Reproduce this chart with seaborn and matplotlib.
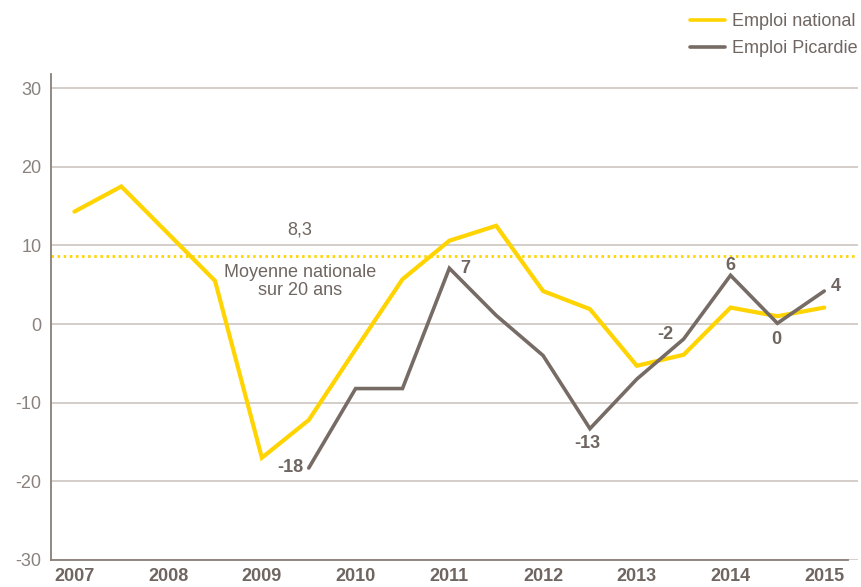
import matplotlib
matplotlib.use("Agg")
import matplotlib.pyplot as plt
import numpy as np
import pandas as pd
import seaborn as sns

# half-year points, 2007 S1 .. 2015 S1
periods = list(range(17))
year_labels = ['2007', '2008', '2009', '2010', '2011', '2012', '2013', '2014', '2015']
national = [14.3, 17.5, 11.5, 5.5, -17.0, -12.2, -3.2, 5.7, 10.6, 12.5,
            4.2, 1.9, -5.3, -3.9, 2.1, 1.0, 2.1]
picardie_periods = list(range(5, 17))
picardie = [-18.3, -8.2, -8.2, 7.1, 1.1, -4.0, -13.3, -7.0, -1.9, 6.2, 0.1, 4.2]
picardie_labels = {5: '-18', 8: '7', 11: '-13', 13: '-2', 14: '6', 15: '0', 16: '4'}
moyenne_y = 8.7
moyenne_txt = '8,3'

yellow = '#FFD400'
brown = '#766b65'
txt_col = '#6f6661'
grid_col = '#cdc6c1'

df = pd.concat([
    pd.DataFrame({'periode': periods, 'valeur': national, 'serie': 'Emploi national'}),
    pd.DataFrame({'periode': picardie_periods, 'valeur': picardie, 'serie': 'Emploi Picardie'}),
])

sns.set_style("white")
plt.rcParams['font.family'] = ['Liberation Sans', 'DejaVu Sans']

fig = plt.figure(figsize=(8.61, 5.87), dpi=100)
ax = fig.add_axes([51/861, 1 - 560/587, (858 - 51)/861, (560 - 74)/587])

sns.lineplot(data=df, x='periode', y='valeur', hue='serie',
             palette={'Emploi national': yellow, 'Emploi Picardie': brown},
             ax=ax, legend=True, sort=False)
for line, lw in zip(ax.get_lines(), [3.0, 2.6]):
    line.set_linewidth(lw)
    line.set_solid_joinstyle('miter')

# moyenne nationale
ax.axhline(moyenne_y, color=yellow, lw=2.0, ls=(0, (0.9, 1.3)), zorder=1)
ax.text(4.81, 11.95, moyenne_txt, ha='center', va='center', fontsize=13, color=txt_col)
ax.text(4.81, 5.4, 'Moyenne nationale\nsur 20 ans', ha='center', va='center',
        fontsize=13, color=txt_col, linespacing=1.05)

# valeurs Picardie
offsets = {5: (-4, 0, 'right', 'center'), 8: (8, 0, 'left', 'center'),
           11: (-2, -11, 'center', 'center'), 13: (-13, 3, 'center', 'center'),
           14: (0, 7, 'center', 'center'), 15: (-1, -12, 'center', 'center'),
           16: (5, 3, 'left', 'center')}
for p, lab in picardie_labels.items():
    v = picardie[picardie_periods.index(p)]
    dx, dy, ha, va = offsets[p]
    ax.annotate(lab, (p, v), xytext=(dx, dy), textcoords='offset points',
                ha=ha, va=va, fontsize=13, fontweight='bold', color=txt_col)

ax.set_xlim(-0.5, 16.72)
ax.set_ylim(-30, 31.8)
ax.set_yticks([-30, -20, -10, 0, 10, 20, 30])
ax.set_yticklabels([str(v) for v in [-30, -20, -10, 0, 10, 20, 30]])
ax.yaxis.grid(True, color=grid_col, lw=1.2)
ax.set_axisbelow(True)
ax.set_xticks(periods[::2])
ax.set_xticklabels(year_labels)
ax.set_xticks(np.arange(-0.5, 17, 1.0), minor=True)
ax.tick_params(axis='x', which='major', length=0, pad=6, labelsize=13, labelcolor=txt_col)
ax.tick_params(axis='x', which='minor', length=5, width=1.2, color='#8a7f79', direction='out')
ax.tick_params(axis='y', length=0, pad=7, labelsize=13, labelcolor='#8a817c')
for t in ax.get_xticklabels():
    t.set_fontweight('bold')
ax.set_xlabel('')
ax.set_ylabel('')
for s in ['top', 'right']:
    ax.spines[s].set_visible(False)
ax.spines['left'].set_color('#8a7f79')
ax.spines['bottom'].set_color('#8a7f79')
ax.spines['left'].set_linewidth(1.3)
ax.spines['bottom'].set_linewidth(1.3)
ax.spines['bottom'].set_bounds(-0.5, 16.5)

handles, labels = ax.get_legend_handles_labels()
ax.get_legend().remove()
leg = fig.legend(handles, labels, loc='upper right', bbox_to_anchor=(858/861, 1 - 13/587),
                 frameon=False, fontsize=13, handlelength=1.95, handletextpad=0.4,
                 labelspacing=0.55, borderaxespad=0, borderpad=0)
for t in leg.get_texts():
    t.set_color(txt_col)
for h in leg.get_lines():
    h.set_linewidth(2.6)

fig.savefig('out.png', dpi=100)
